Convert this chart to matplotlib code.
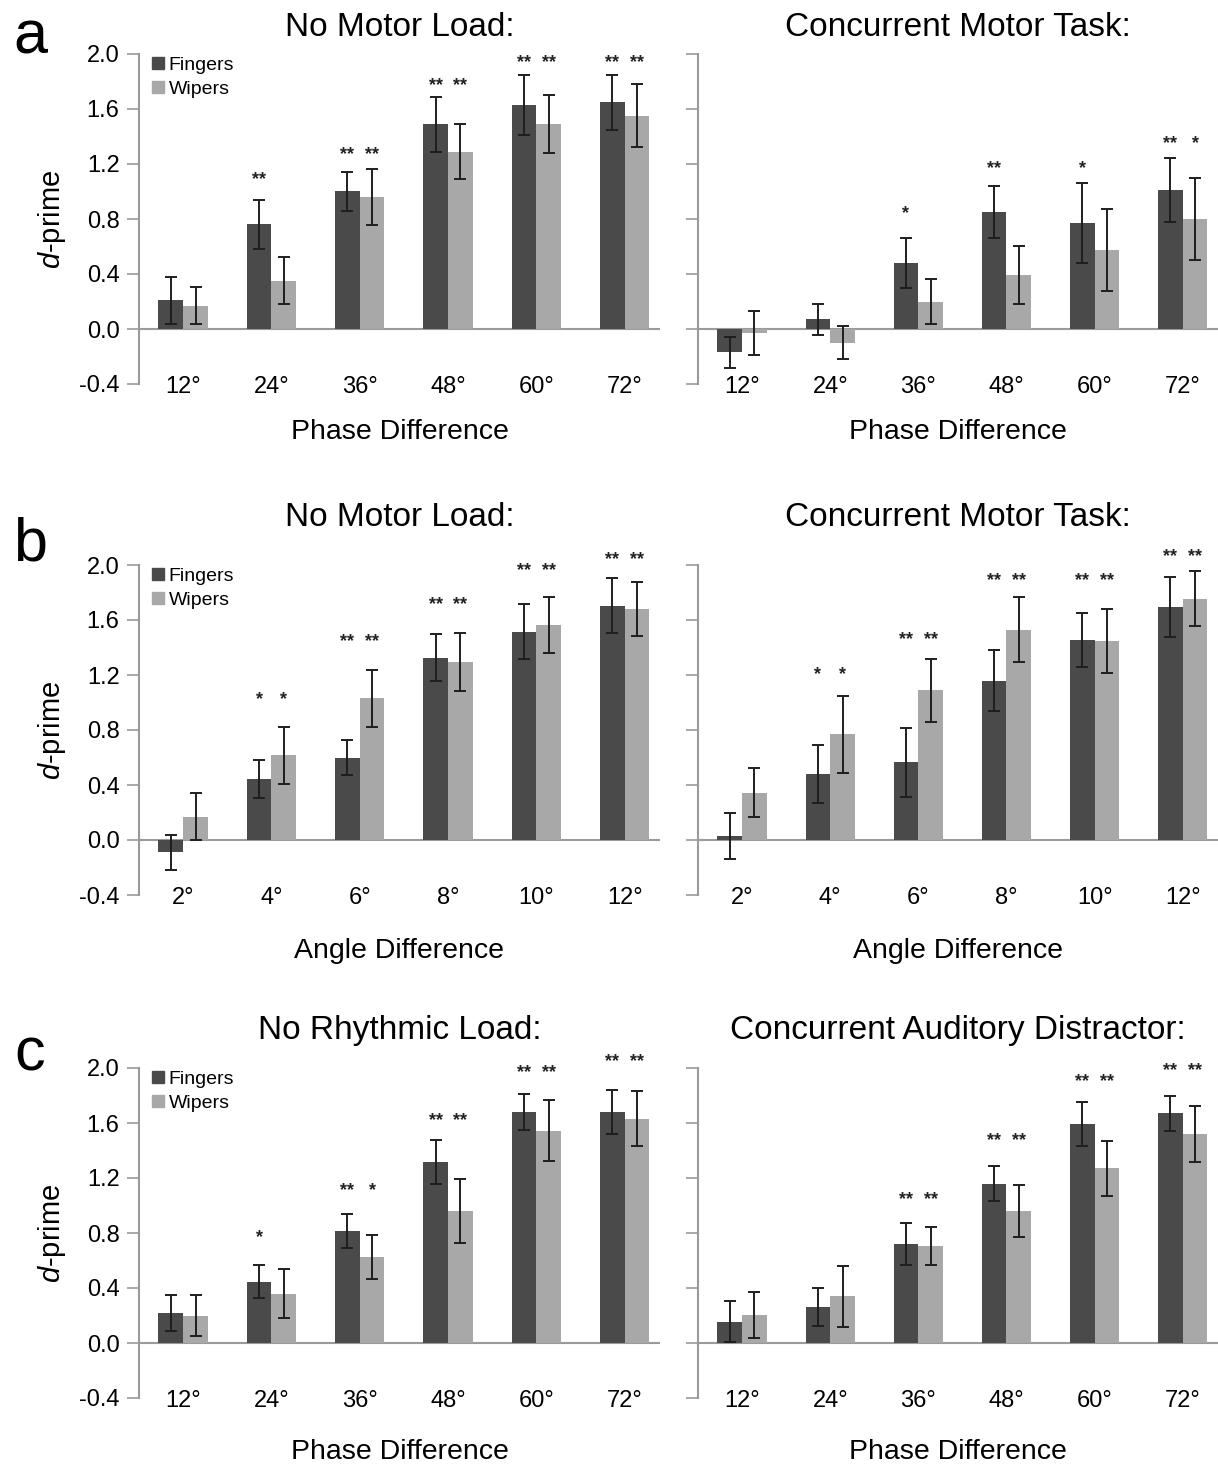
import numpy as np
import matplotlib
matplotlib.use('Agg')
import matplotlib.pyplot as plt
import matplotlib.patches as mpatches

plt.rcParams['font.family'] = ['Liberation Sans', 'DejaVu Sans']
plt.rcParams['mathtext.fontset'] = 'custom'
plt.rcParams['mathtext.it'] = 'Liberation Sans:italic'
plt.rcParams['mathtext.rm'] = 'Liberation Sans'

phase_labels = ['12°', '24°', '36°', '48°', '60°', '72°']
angle_labels = ['2°', '4°', '6°', '8°', '10°', '12°']

# row a, no motor load
a1_fing = [0.21, 0.76, 1.00, 1.49, 1.63, 1.65]
a1_fing_err = [0.17, 0.18, 0.145, 0.20, 0.22, 0.20]
a1_wip = [0.17, 0.35, 0.96, 1.29, 1.49, 1.55]
a1_wip_err = [0.135, 0.17, 0.205, 0.20, 0.21, 0.23]
a1_sig_f = ['', '**', '**', '**', '**', '**']
a1_sig_w = ['', '', '**', '**', '**', '**']
a1_star_y = [0, 1.09, 1.27, 1.77, 1.94, 1.94]

# row a, concurrent motor task
a2_fing = [-0.17, 0.07, 0.48, 0.85, 0.77, 1.01]
a2_fing_err = [0.11, 0.115, 0.18, 0.19, 0.29, 0.235]
a2_wip = [-0.03, -0.10, 0.20, 0.39, 0.575, 0.80]
a2_wip_err = [0.16, 0.12, 0.165, 0.21, 0.30, 0.295]
a2_sig_f = ['', '', '*', '**', '*', '**']
a2_sig_w = ['', '', '', '', '', '*']
a2_star_y = [0, 0, 0.84, 1.17, 1.17, 1.345]

# row b, no motor load
b1_fing = [-0.09, 0.445, 0.60, 1.325, 1.515, 1.705]
b1_fing_err = [0.13, 0.14, 0.13, 0.17, 0.20, 0.20]
b1_wip = [0.17, 0.615, 1.03, 1.295, 1.565, 1.68]
b1_wip_err = [0.17, 0.205, 0.21, 0.21, 0.205, 0.195]
b1_sig_f = ['', '*', '**', '**', '**', '**']
b1_sig_w = ['', '*', '**', '**', '**', '**']
b1_star_y = [0, 1.02, 1.44, 1.71, 1.96, 2.04]

# row b, concurrent motor task
b2_fing = [0.03, 0.48, 0.565, 1.16, 1.455, 1.695]
b2_fing_err = [0.167, 0.21, 0.25, 0.225, 0.197, 0.218]
b2_wip = [0.345, 0.77, 1.09, 1.53, 1.445, 1.755]
b2_wip_err = [0.18, 0.28, 0.23, 0.235, 0.234, 0.20]
b2_sig_f = ['', '*', '**', '**', '**', '**']
b2_sig_w = ['', '*', '**', '**', '**', '**']
b2_star_y = [0, 1.20, 1.455, 1.89, 1.89, 2.06]

# row c, no rhythmic load
c1_fing = [0.22, 0.445, 0.815, 1.315, 1.68, 1.68]
c1_fing_err = [0.13, 0.12, 0.125, 0.16, 0.13, 0.157]
c1_wip = [0.20, 0.36, 0.625, 0.96, 1.545, 1.63]
c1_wip_err = [0.15, 0.18, 0.163, 0.235, 0.22, 0.20]
c1_sig_f = ['', '*', '**', '**', '**', '**']
c1_sig_w = ['', '', '*', '**', '**', '**']
c1_star_y = [0, 0.77, 1.11, 1.62, 1.97, 2.05]

# row c, concurrent auditory distractor
c2_fing = [0.155, 0.26, 0.72, 1.16, 1.59, 1.67]
c2_fing_err = [0.15, 0.137, 0.155, 0.13, 0.16, 0.127]
c2_wip = [0.205, 0.34, 0.705, 0.96, 1.27, 1.52]
c2_wip_err = [0.165, 0.22, 0.14, 0.19, 0.20, 0.205]
c2_sig_f = ['', '', '**', '**', '**', '**']
c2_sig_w = ['', '', '**', '**', '**', '**']
c2_star_y = [0, 0, 1.04, 1.47, 1.90, 1.98]

dark = '#4a4a4a'
light = '#a8a8a8'
axis_gray = '#9a9a9a'

fig = plt.figure(figsize=(12.18, 14.66), dpi=100)

W, H = 1218.0, 1466.0
col_x = [139, 698]
col_w = [521, 520]
row_top = [54, 565, 1068]
row_h = 330


def panel(ax, labels, fing, fing_err, wip, wip_err, sig_f, sig_w, star_y, show_ylab, legend):
    x = np.arange(len(labels))
    bw = 0.28
    ax.bar(x - bw / 2, fing, bw, color=dark, zorder=2)
    ax.bar(x + bw / 2, wip, bw, color=light, zorder=2)
    ax.errorbar(x - bw / 2, fing, yerr=fing_err, fmt='none', ecolor='#1e1e1e',
                elinewidth=1.4, capsize=4, capthick=1.4, zorder=3)
    ax.errorbar(x + bw / 2, wip, yerr=wip_err, fmt='none', ecolor='#1e1e1e',
                elinewidth=1.4, capsize=4, capthick=1.4, zorder=3)
    for i in range(len(labels)):
        if sig_f[i]:
            ax.text(x[i] - bw / 2, star_y[i], sig_f[i], ha='center', va='center',
                    fontsize=13, fontweight='bold', color='#222222')
        if sig_w[i]:
            ax.text(x[i] + bw / 2, star_y[i], sig_w[i], ha='center', va='center',
                    fontsize=13, fontweight='bold', color='#222222')
    ax.axhline(0, color=axis_gray, lw=1.5, zorder=1)
    ax.set_xlim(-0.5, 5.4)
    ax.set_ylim(-0.4, 2.0)
    ax.set_yticks(np.arange(-0.4, 2.01, 0.4))
    if show_ylab:
        ax.set_yticklabels(['%.1f' % v for v in np.arange(-0.4, 2.01, 0.4)])
    else:
        ax.set_yticklabels([])
    ax.tick_params(axis='y', length=9, width=1.2, color=axis_gray, labelsize=17, pad=5)
    ax.set_xticks(x)
    ax.set_xticklabels(labels)
    ax.tick_params(axis='x', length=0, labelsize=17, pad=-5.5)
    for s in ['top', 'right', 'bottom']:
        ax.spines[s].set_visible(False)
    ax.spines['left'].set_color(axis_gray)
    ax.spines['left'].set_linewidth(1.5)
    if show_ylab:
        ax.set_ylabel('$d$-prime', fontsize=21, labelpad=8)
    if legend:
        h1 = mpatches.Patch(color=dark, label='Fingers')
        h2 = mpatches.Patch(color=light, label='Wipers')
        ax.legend(handles=[h1, h2], loc='upper left', bbox_to_anchor=(0.01, 1.015),
                  frameon=False, fontsize=14, handlelength=0.6, handleheight=0.6,
                  handletextpad=0.25, labelspacing=0.35, borderaxespad=0)


rows = [
    (phase_labels, 'Phase Difference', ['No Motor Load:', 'Concurrent Motor Task:'],
     [(a1_fing, a1_fing_err, a1_wip, a1_wip_err, a1_sig_f, a1_sig_w, a1_star_y),
      (a2_fing, a2_fing_err, a2_wip, a2_wip_err, a2_sig_f, a2_sig_w, a2_star_y)]),
    (angle_labels, 'Angle Difference', ['No Motor Load:', 'Concurrent Motor Task:'],
     [(b1_fing, b1_fing_err, b1_wip, b1_wip_err, b1_sig_f, b1_sig_w, b1_star_y),
      (b2_fing, b2_fing_err, b2_wip, b2_wip_err, b2_sig_f, b2_sig_w, b2_star_y)]),
    (phase_labels, 'Phase Difference', ['No Rhythmic Load:', 'Concurrent Auditory Distractor:'],
     [(c1_fing, c1_fing_err, c1_wip, c1_wip_err, c1_sig_f, c1_sig_w, c1_star_y),
      (c2_fing, c2_fing_err, c2_wip, c2_wip_err, c2_sig_f, c2_sig_w, c2_star_y)]),
]
title_y = [27, 517, 1030]
letter_y = [38, 545, 1055]
xlab_y = [432, 951, 1452]
letters = ['a', 'b', 'c']

for r, (labels, xlab, titles, data) in enumerate(rows):
    for c in range(2):
        left = col_x[c] / W
        bottom = 1 - (row_top[r] + row_h) / H
        ax = fig.add_axes([left, bottom, col_w[c] / W, row_h / H])
        panel(ax, labels, *data[c], show_ylab=(c == 0), legend=(c == 0))
        cx = (col_x[c] + col_w[c] / 2) / W
        fig.text(cx, 1 - title_y[r] / H, titles[c], ha='center', va='center', fontsize=24)
        fig.text(cx, 1 - xlab_y[r] / H, xlab, ha='center', va='center', fontsize=20.5)
    fig.text(30 / W, 1 - letter_y[r] / H, letters[r], ha='center', va='center', fontsize=44)

fig.savefig('out.png', dpi=100, facecolor='white')
